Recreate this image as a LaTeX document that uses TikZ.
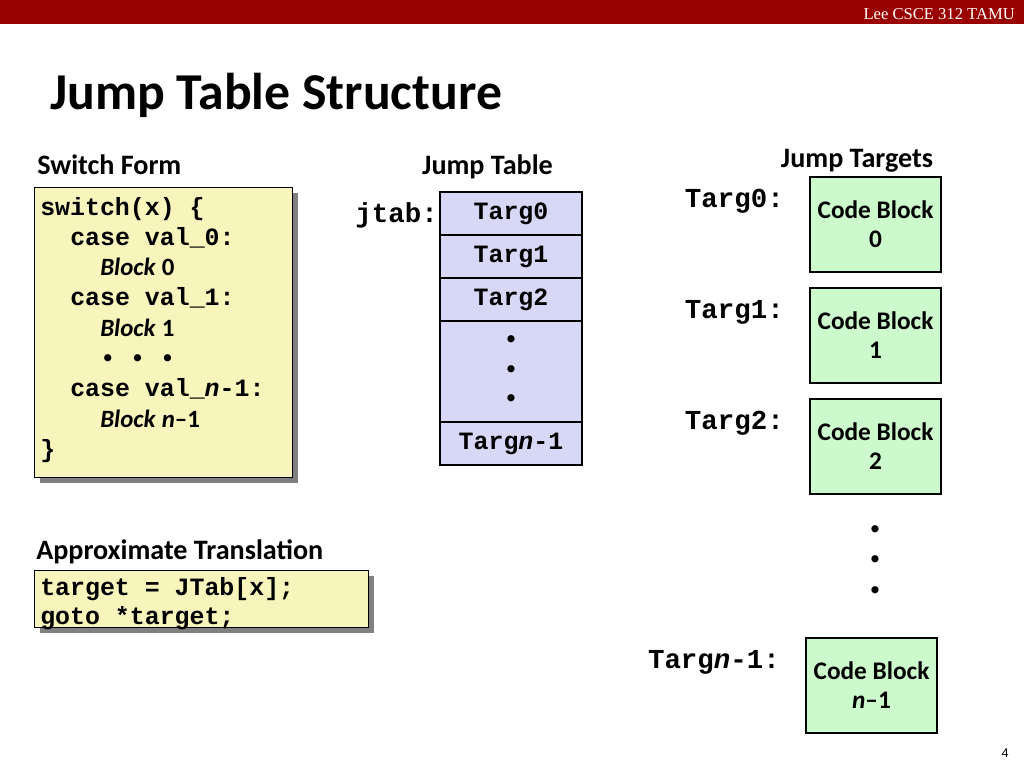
\documentclass[tikz,border=0pt]{standalone}
\usepackage{fontspec}
\setmainfont{Carlito}
\newfontfamily\codefont{Liberation Mono}
\newfontfamily\headerfont{Liberation Serif}
\newfontfamily\pagefont{Liberation Sans}
\usetikzlibrary{positioning,shadows}

\newlength\unitpx
\setlength\unitpx{0.025cm}
\newcommand\blockname[1]{{\rmfamily\textit{Block} #1}}

\definecolor{barred}{RGB}{153,0,0}
\definecolor{switchyellow}{RGB}{248,245,188}
\definecolor{tablelavender}{RGB}{214,216,246}
\definecolor{blockgreen}{RGB}{204,250,204}

\tikzset{
  heading/.style={font=\bfseries\fontsize{20}{24}\selectfont, inner sep=0},
  codeline/.style={font=\codefont\bfseries\fontsize{17.7}{21.5}\selectfont, inner sep=0, anchor=base west},
  codebox/.style={draw=black, line width=1pt, fill=switchyellow, anchor=north west, inner sep=0,
    drop shadow={shadow xshift=5\unitpx, shadow yshift=-5\unitpx, fill=black!50, opacity=1}},
  tablecell/.style={draw=black, line width=1.6pt, fill=tablelavender, minimum width=142\unitpx,
    minimum height=43\unitpx, inner sep=0, outer sep=0, align=center,
    font=\codefont\bfseries\fontsize{17.7}{21}\selectfont},
  codeblock/.style={draw=black, line width=1.6pt, fill=blockgreen, minimum width=131\unitpx,
    minimum height=95\unitpx, inner sep=0, outer sep=0, align=center, anchor=north west,
    font=\bfseries\fontsize{18}{20.6}\selectfont},
  targlabel/.style={font=\codefont\bfseries\fontsize{19.5}{23}\selectfont, inner sep=0, anchor=base east}
}

\begin{document}
\begin{tikzpicture}[x=0.025cm, y=-0.025cm]
    \useasboundingbox (0,0) rectangle (1024,768);

    % Header bar and title
    \fill[barred] (0,0) rectangle (1024,24);
    \node[font=\headerfont\fontsize{11.8}{14}\selectfont, text=white, anchor=base east, inner sep=0] (header) at (1015,20) {Lee CSCE 312 TAMU};
    \node[font=\bfseries\fontsize{36.8}{40}\selectfont, anchor=base west, inner sep=0] (title) at (50,110) {Jump Table Structure};

    % Switch form
    \node[heading, anchor=base west] (switchhead) at (37,175) {Switch Form};
    \node[codebox, minimum width=258\unitpx, minimum height=290\unitpx] (switchbox) at (34,187) {};
    \node[codeline] (sw0) at (40,215) {switch(x) \{};
    \node[codeline] (sw1) at (70,245.3) {case val\_0:};
    \node[codeline] (sw2) at (100,275.6) {\blockname{0}};
    \node[codeline] (sw3) at (70,305.9) {case val\_1:};
    \node[codeline] (sw4) at (100,336.2) {\blockname{1}};
    \node[codeline] (sw5) at (100,366.5) {• • •};
    \node[codeline] (sw6) at (70,396.8) {case val\_\textit{n}-1:};
    \node[codeline] (sw7) at (100,427.1) {\blockname{\textit{n}–1}};
    \node[codeline] (sw8) at (40,457.4) {\}};

    % Approximate translation
    \node[heading, anchor=base west] (transhead) at (36,559) {Approximate Translation};
    \node[codebox, minimum width=334\unitpx, minimum height=57\unitpx] (transbox) at (34,570) {};
    \node[codeline] (tr0) at (40,595) {target = JTab[x];};
    \node[codeline] (tr1) at (40,624) {goto *target;};

    % Jump table
    \node[heading, anchor=base] (tablehead) at (487.5,175) {Jump Table};
    \node[tablecell, anchor=north west] (row0) at (440,192) {Targ0};
    \node[tablecell, below=0pt of row0] (row1) {Targ1};
    \node[tablecell, below=0pt of row1] (row2) {Targ2};
    \node[tablecell, below=0pt of row2, minimum height=101\unitpx] (rowdots) {•\\•\\•};
    \node[tablecell, below=0pt of rowdots] (rowlast) {Targ\textit{n}-1};
    \node[targlabel] (jtab) at (438,222) {jtab:};

    % Jump targets
    \node[heading, anchor=base] (targethead) at (857,168) {Jump Targets};
    \node[codeblock] (blk0) at (810,177) {Code Block\\0};
    \node[codeblock, below=16\unitpx of blk0] (blk1) {Code Block\\1};
    \node[codeblock, below=16\unitpx of blk1] (blk2) {Code Block\\2};
    \node[codeblock] (blklast) at (806,638) {Code Block\\\textit{n}–1};
    \node[targlabel] (lbl0) at (784,207) {Targ0:};
    \node[targlabel] (lbl1) at (784,318) {Targ1:};
    \node[targlabel] (lbl2) at (784,429) {Targ2:};
    \node[targlabel] (lbllast) at (780,668) {Targ\textit{n}-1:};
    \node[font=\codefont\bfseries\fontsize{17.7}{21.6}\selectfont, align=center, inner sep=0] (targdots) at (875,562) {•\\•\\•};

    % Page number
    \node[font=\pagefont\fontsize{9}{10}\selectfont, anchor=base east, inner sep=0] (pagenum) at (1009,757) {4};
\end{tikzpicture}
\end{document}
